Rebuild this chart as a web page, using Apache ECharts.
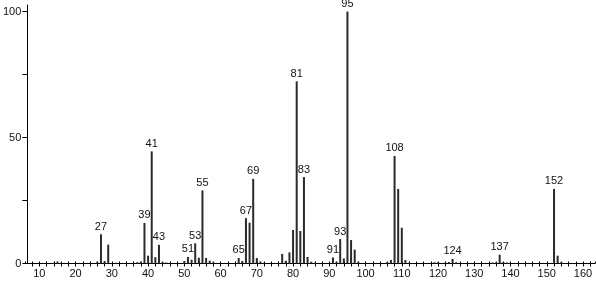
<!DOCTYPE html>
<html>
<head>
<meta charset="utf-8">
<script src="https://cdn.jsdelivr.net/npm/echarts@6/dist/echarts.min.js"></script>
<style>
html,body{margin:0;padding:0;background:#fff;}
#chart{width:596px;height:281px;}
</style>
</head>
<body>
<div id="chart"></div>
<script>
// m/z values and relative intensities
const mz = [14, 15, 16, 26, 27, 28, 29, 31, 37, 38, 39, 40, 41, 42, 43, 44, 45,
  50, 51, 52, 53, 54, 55, 56, 57, 58, 65, 66, 67, 68, 69, 70, 71, 72,
  77, 78, 79, 80, 81, 82, 83, 84, 85, 86, 91, 92, 93, 94, 95, 96, 97, 98,
  106, 107, 108, 109, 110, 111, 112, 119, 120, 122, 123, 124, 125,
  135, 136, 137, 138, 139, 152, 153, 154];
const intensity = [0.3, 0.8, 0.3, 0.7, 11.6, 1.0, 7.5, 0.3, 0.5, 0.7, 16.1, 3.1, 44.5, 2.5, 7.4, 0.5, 0.4,
  1.0, 2.6, 1.5, 8.0, 2.3, 29.0, 2.2, 1.1, 0.5, 2.2, 1.0, 18.0, 16.2, 33.6, 2.2, 0.8, 0.3,
  3.8, 1.1, 4.4, 13.3, 72.3, 12.9, 34.3, 2.6, 0.7, 0.3, 2.4, 0.7, 9.7, 2.0, 100, 9.3, 5.5, 0.7,
  0.6, 1.4, 42.7, 29.6, 14.2, 1.4, 0.3, 0.5, 0.5, 0.4, 0.6, 1.8, 0.5,
  0.4, 0.5, 3.5, 0.6, 0.4, 29.6, 3.1, 0.6];
const labeledPeaks = [27, 39, 41, 43, 51, 53, 55, 65, 67, 69, 81, 83, 91, 93, 95, 108, 124, 137, 152];
const xTickLabels = [10, 20, 30, 40, 50, 60, 70, 80, 90, 100, 110, 120, 130, 140, 150, 160];
const yTickLabels = [0, 50, 100];

const FONT = 'Liberation Sans';
const near = (list, v) => list.some(t => Math.abs(t - v) < 1e-6);
const data = mz.map((m, i) => {
  const item = { value: [m, intensity[i]] };
  if (labeledPeaks.indexOf(m) >= 0) {
    item.label = { show: true };
  }
  return item;
});

const chart = echarts.init(document.getElementById('chart'), null, { renderer: 'canvas' });
chart.setOption({
  animation: false,
  backgroundColor: '#ffffff',
  grid: { left: 22.5, right: 1, top: 5, bottom: 17.5, containLabel: false },
  xAxis: [{
    type: 'value',
    min: 6,
    max: 163.3,
    interval: 2,
    splitLine: { show: false },
    axisLine: { show: true, lineStyle: { color: '#000', width: 1 } },
    axisTick: { show: true, inside: false, length: 3, lineStyle: { color: '#000' } },
    axisLabel: {
      show: true, margin: 5, color: '#111', fontFamily: FONT, fontSize: 11,
      showMinLabel: false, showMaxLabel: false,
      formatter: v => (near(xTickLabels, v) ? String(Math.round(v)) : '')
    }
  }, {
    type: 'value',
    position: 'bottom',
    min: 6,
    max: 163.3,
    interval: 2,
    splitLine: { show: false },
    axisLine: { show: false },
    axisTick: { show: true, inside: true, length: 2, lineStyle: { color: '#000' } },
    axisLabel: { show: false }
  }],
  yAxis: {
    type: 'value',
    min: 0,
    max: 102.6,
    interval: 25,
    offset: -2.5,
    splitLine: { show: false },
    axisLine: { show: true, lineStyle: { color: '#000', width: 1 } },
    axisTick: { show: true, inside: false, length: 5, lineStyle: { color: '#000' } },
    axisLabel: {
      show: true, margin: 6, color: '#111', fontFamily: FONT, fontSize: 11,
      showMaxLabel: false,
      formatter: v => (near(yTickLabels, v) ? String(Math.round(v)) : '')
    }
  },
  series: [{
    type: 'bar',
    xAxisIndex: 0,
    barWidth: 2,
    itemStyle: { color: '#2a2a2a' },
    label: {
      show: false,
      position: 'top',
      distance: 2,
      color: '#111',
      fontFamily: FONT,
      fontSize: 11,
      formatter: p => String(p.value[0])
    },
    data: data
  }]
});
</script>
</body>
</html>
